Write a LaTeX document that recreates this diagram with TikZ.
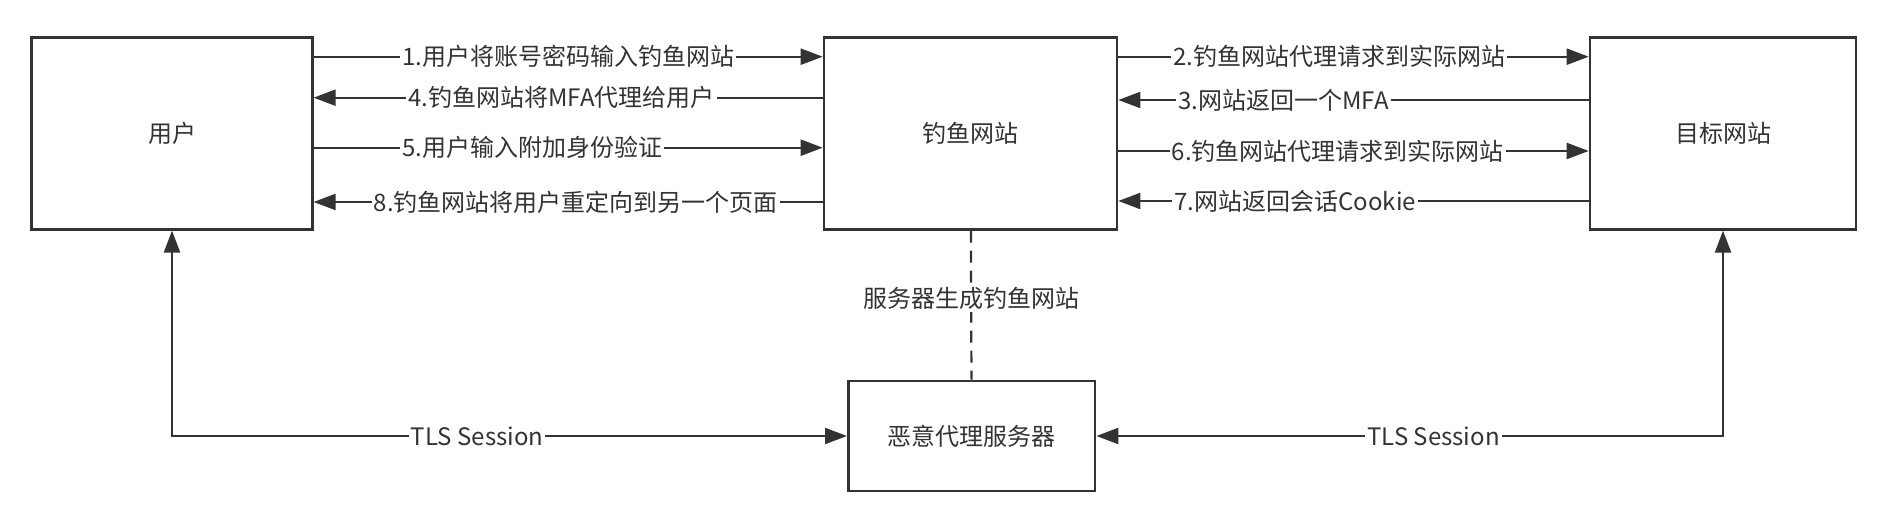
\documentclass[tikz,border=0pt]{standalone}
\usepackage{fontspec}
\setmainfont{Noto Sans CJK SC}
\usetikzlibrary{arrows.meta}
\definecolor{mLine}{HTML}{333333}
\definecolor{mText}{HTML}{333333}

\begin{document}
\begin{tikzpicture}[x=0.5pt, y=-0.5pt,
    box/.style={rectangle, draw=mLine, line width=1.3pt, fill=white, text=mText, font=\fontsize{12}{14}\selectfont, inner sep=0pt, minimum height=96pt},
    lbl/.style={fill=white, text=mText, font=\fontsize{12}{14}\selectfont, inner xsep=1pt, inner ysep=1pt},
    arrow/.style={line width=1.1pt, mLine, -{Triangle[length=11pt, width=8pt]}},
    both/.style={line width=1.1pt, mLine, {Triangle[length=11pt, width=8pt]}-{Triangle[length=11pt, width=8pt]}},
    dashline/.style={line width=1.1pt, mLine, dash pattern=on 6pt off 4pt}
]
    \useasboundingbox (0,0) rectangle (1884,506);

    \node[box, minimum width=140.3pt] (user) at (172,133.3) {用户};
    \node[box, minimum width=146.5pt] (phish) at (970.5,133.3) {钓鱼网站};
    \node[box, minimum width=133pt] (target) at (1723,133.3) {目标网站};
    \node[box, minimum width=123.4pt, minimum height=55pt] (proxy) at (971.7,436) {恶意代理服务器};

    % user <-> phishing site
    \draw[arrow] (user.east |- 0,56.7) -- node[lbl, pos=0.5] {1.用户将账号密码输入钓鱼网站} (phish.west |- 0,56.7);
    \draw[arrow] (phish.west |- 0,97.7) -- node[lbl, pos=0.513] {4.钓鱼网站将MFA代理给用户} (user.east |- 0,97.7);
    \draw[arrow] (user.east |- 0,147.7) -- node[lbl, pos=0.429] {5.用户输入附加身份验证} (phish.west |- 0,147.7);
    \draw[arrow] (phish.west |- 0,202) -- node[lbl, pos=0.485] {8.钓鱼网站将用户重定向到另一个页面} (user.east |- 0,202);

    % phishing site <-> target site
    \draw[arrow] (phish.east |- 0,56.7) -- node[lbl, pos=0.47] {2.钓鱼网站代理请求到实际网站} (target.west |- 0,56.7);
    \draw[arrow] (target.west |- 0,100) -- node[lbl, pos=0.649] {3.网站返回一个MFA} (phish.east |- 0,100);
    \draw[arrow] (phish.east |- 0,151) -- node[lbl, pos=0.467] {6.钓鱼网站代理请求到实际网站} (target.west |- 0,151);
    \draw[arrow] (target.west |- 0,201) -- node[lbl, pos=0.624] {7.网站返回会话Cookie} (phish.east |- 0,201);

    \draw[dashline] (phish) -- node[lbl, pos=0.456] {服务器生成钓鱼网站} (proxy);

    % TLS sessions
    \draw[both] (user) |- node[lbl, pos=0.726] {TLS Session} (proxy);
    \draw[both] (target) |- node[lbl, pos=0.731] {TLS Session} (proxy);
\end{tikzpicture}
\end{document}
